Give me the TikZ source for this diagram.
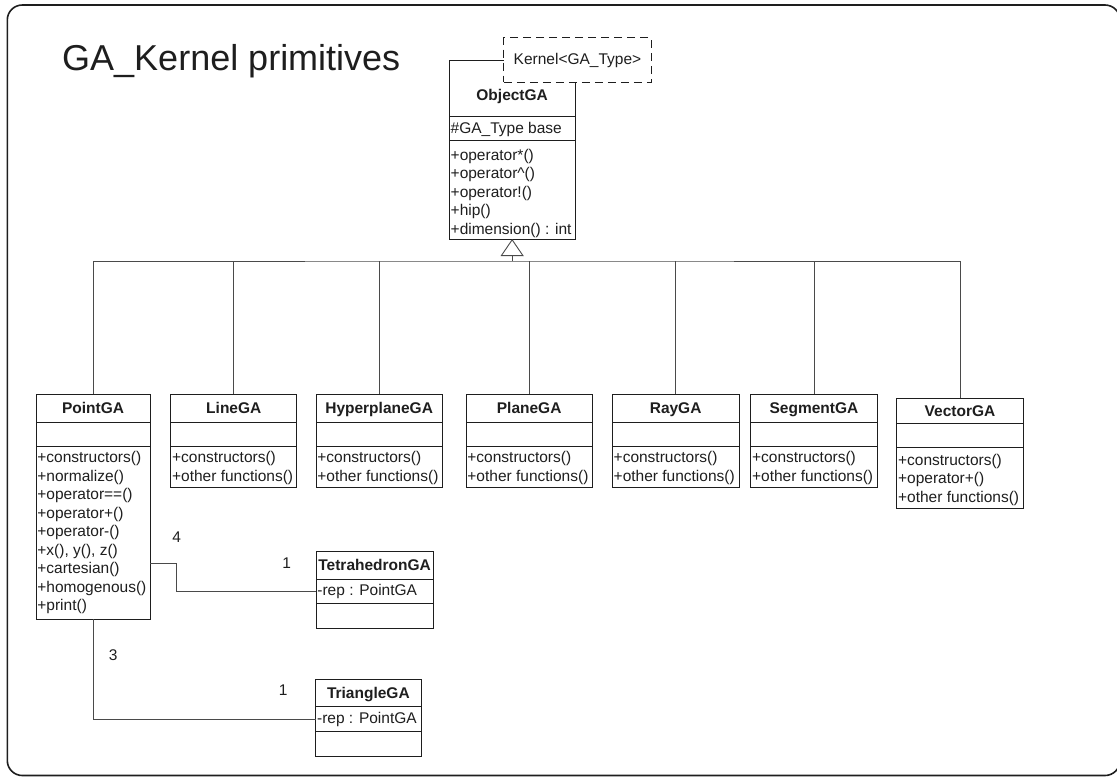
\documentclass[tikz,border=0pt]{standalone}
\usepackage{fontspec}
\setmainfont{Liberation Sans}
\usetikzlibrary{arrows.meta}

\definecolor{ink}{HTML}{1E1E1E}
\definecolor{wire}{HTML}{4A4A4A}

% A UML class: outer box with name, attribute and operation cells.
% #1 name, #2 left, #3 top, #4 width, #5 name cell, #6 attribute cell,
% #7 operation cell, #8 title baseline below top, #9 title
\newcommand\umlclass[9]{%
  \pgfmathsetmacro\umlh{#5+#6+#7}%
  \pgfmathsetmacro\umlsep{#5+#6}%
  \node[classbox, minimum width=#4pt, minimum height=\umlh pt] (#1) at (#2,#3) {};
  \draw[classline] ([yshift=-#5pt]#1.north west) -- ([yshift=-#5pt]#1.north east);
  \draw[classline] ([yshift=-\umlsep pt]#1.north west) -- ([yshift=-\umlsep pt]#1.north east);
  \node[classtitle] (#1-title) at ([yshift=-#8pt]#1.north) {#9};
}

% Member lines of a class, one per baseline.
% #1 class, #2 tag, #3 first baseline below top, #4 list
\newcommand\umlmembers[4]{%
  \foreach \m [count=\i from 0] in {#4}{%
    \pgfmathsetmacro\umly{#3+\i*18.5}%
    \node[member, name=#1-#2\i] at ([xshift=1.2pt, yshift=-\umly pt]#1.north west) {\m};
  }%
}

\begin{document}
\begin{tikzpicture}[x=1pt, y=-1pt,
  font=\fontsize{15.5}{18.5}\selectfont, text=ink,
  classbox/.style={draw=ink, line width=0.9pt, anchor=north west, inner sep=0pt, outer sep=0pt},
  classline/.style={draw=ink, line width=0.9pt},
  classtitle/.style={anchor=base, inner sep=0pt, font=\fontsize{15.5}{18.5}\selectfont\bfseries},
  member/.style={anchor=base west, inner sep=0pt},
  conn/.style={draw=wire, line width=0.9pt},
  mult/.style={inner sep=0pt},
  frame/.style={draw=ink, line width=1.6pt, rounded corners=15pt},
  template/.style={draw=ink, line width=1pt, dash pattern=on 8pt off 5pt, fill=white, inner sep=0pt}]

\useasboundingbox (0,0) rectangle (1117,777);
\draw[frame] (7.3,5) rectangle (1120,775.5);

\node[anchor=base west, inner sep=0pt, font=\fontsize{36}{40}\selectfont] (heading) at (62,70.8) {GA\_Kernel primitives};

% base class and its template parameter
\umlclass{ObjectGA}{449.3}{60}{125.7}{56}{24}{99}{40.5}{ObjectGA}
\umlmembers{ObjectGA}{a}{73}{\#GA\_Type base}
\umlmembers{ObjectGA}{m}{100}{+operator*(), +operator\textasciicircum(), +operator!(), +hip(), +dimension() : int}
\node[template, minimum width=147.4pt, minimum height=44.4pt, anchor=north west] (kernel) at (503.3,37.3) {};
\node[inner sep=0pt] (kernel-label) at (kernel.center) {Kernel<GA\_Type>};

% derived primitives
\umlclass{PointGA}{36}{394}{114}{28.7}{24}{172.6}{19.5}{PointGA}
\umlmembers{PointGA}{m}{68.7}{+constructors(), +normalize(), +operator==(), +operator+(), +operator-(), {+x(), y(), z()}, +cartesian(), +homogenous(), +print()}

\umlclass{LineGA}{170.7}{394}{126.2}{28.7}{24}{41}{19.5}{LineGA}
\umlmembers{LineGA}{m}{68.7}{+constructors(), +other functions()}

\umlclass{HyperplaneGA}{316}{394}{126.3}{28.7}{24}{41}{19.5}{HyperplaneGA}
\umlmembers{HyperplaneGA}{m}{68.7}{+constructors(), +other functions()}

\umlclass{PlaneGA}{466}{394}{126.3}{28.7}{24}{41}{19.5}{PlaneGA}
\umlmembers{PlaneGA}{m}{68.7}{+constructors(), +other functions()}

\umlclass{RayGA}{612.3}{394}{126.7}{28.7}{24}{41}{19.5}{RayGA}
\umlmembers{RayGA}{m}{68.7}{+constructors(), +other functions()}

\umlclass{SegmentGA}{750.7}{394}{126.6}{28.7}{24}{41}{19.5}{SegmentGA}
\umlmembers{SegmentGA}{m}{68.7}{+constructors(), +other functions()}

\umlclass{VectorGA}{896.7}{398.3}{126.6}{25}{24.4}{60.6}{18}{VectorGA}
\umlmembers{VectorGA}{m}{66.7}{+constructors(), +operator+(), +other functions()}

% composite primitives
\umlclass{TetrahedronGA}{316}{551}{117.3}{28.3}{24}{25}{19.5}{TetrahedronGA}
\umlmembers{TetrahedronGA}{a}{44}{-rep : PointGA}

\umlclass{TriangleGA}{315.7}{679}{105.3}{27.7}{25}{24.3}{19.8}{TriangleGA}
\umlmembers{TriangleGA}{a}{44.3}{-rep : PointGA}

% generalisation tree
\coordinate (bus) at (512.15,261);
\draw[conn] (PointGA.north) |- (bus) -| (VectorGA.north);
\foreach \c in {LineGA,HyperplaneGA,PlaneGA,RayGA,SegmentGA}
  \draw[conn] (\c.north) -- (\c.north |- bus);
\draw[conn, -{Triangle[open, width=23pt, length=17pt, fill=white]}] (bus) -- (ObjectGA.south);

% associations
\coordinate (tetbend) at (176,563.3);
\draw[conn] (PointGA.east |- tetbend) -- (tetbend) |- (TetrahedronGA.west |- TetrahedronGA-a0);
\draw[conn] (PointGA.south) |- (TriangleGA.west |- TriangleGA-a0);

\node[mult] (mult-tet-point) at (176.7,536.7) {4};
\node[mult] (mult-tet) at (286.7,562.7) {1};
\node[mult] (mult-tri-point) at (113.3,655) {3};
\node[mult] (mult-tri) at (283.3,690) {1};

\end{tikzpicture}
\end{document}
